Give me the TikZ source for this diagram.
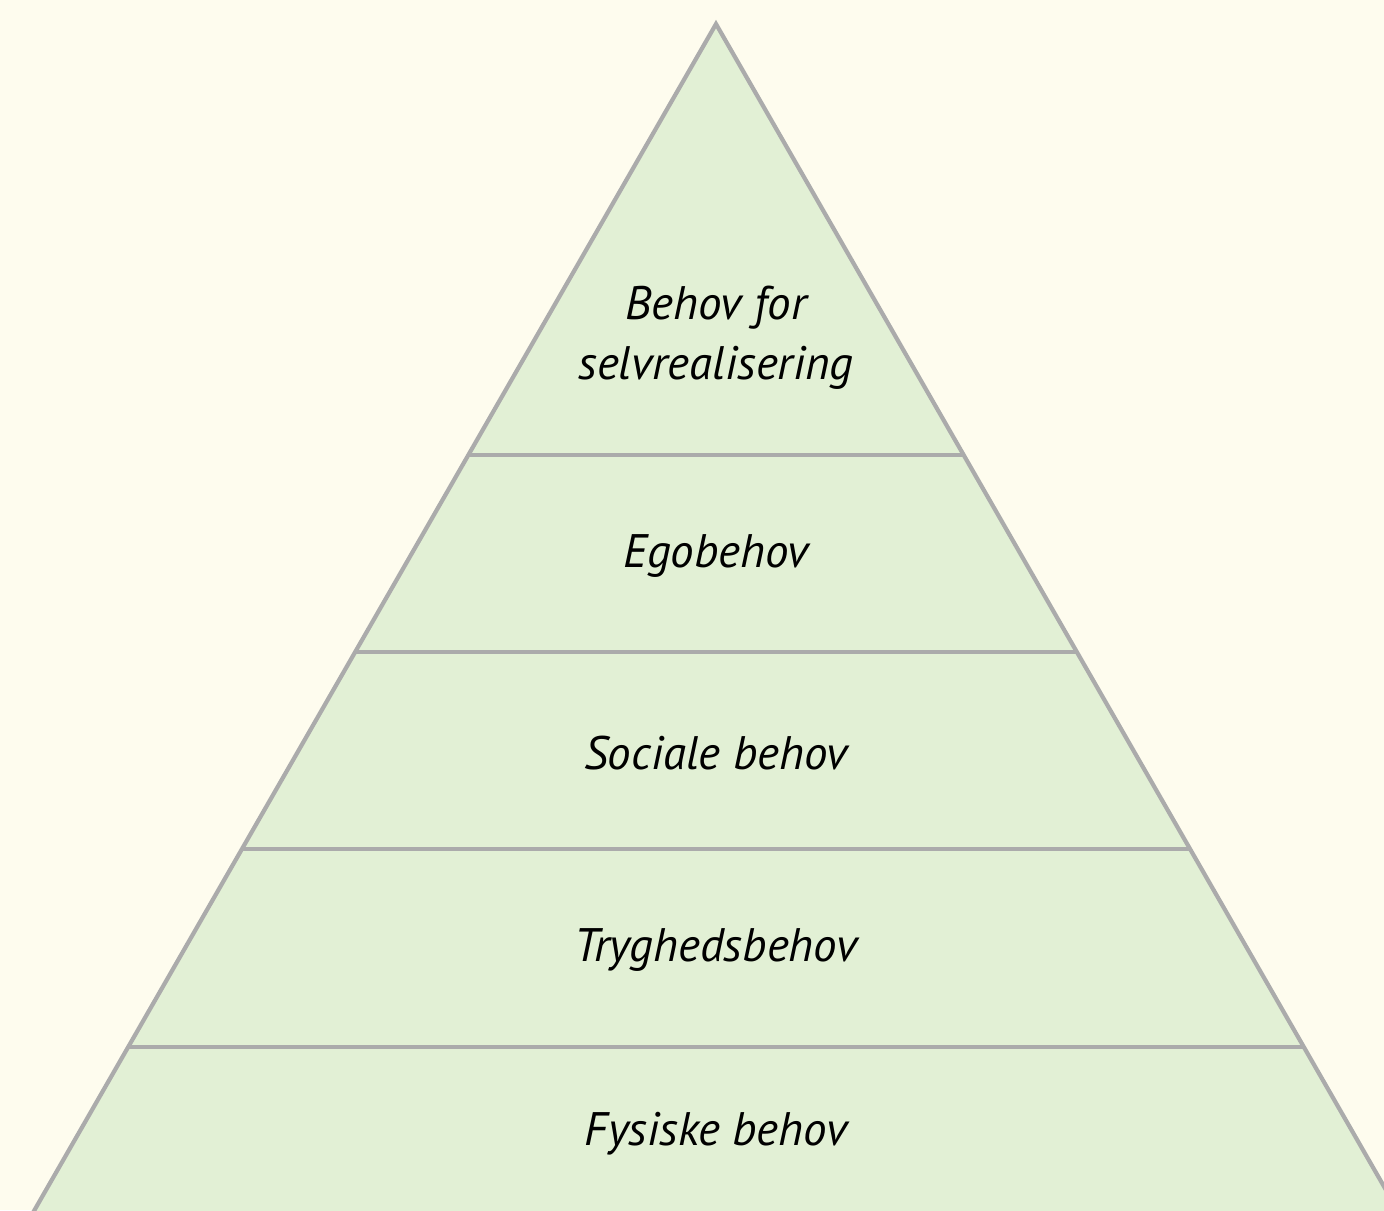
\documentclass[tikz,border=0pt]{standalone}
\usepackage{fontspec}
\setmainfont{PT Sans}
\definecolor{bgc}{HTML}{FEFCEE}
\definecolor{fillc}{HTML}{E2F0D5}
\definecolor{linec}{HTML}{ABABAB}
\begin{document}
\begin{tikzpicture}[x=0.5pt,y=-0.5pt,
  edge/.style={draw=linec,line width=2.1pt},
  lbl/.style={font=\fontsize{23.5}{30}\selectfont\itshape,align=center,text=black}]
\path[use as bounding box,fill=bgc] (0,0) rectangle (1384,1210);
\begin{scope}
\clip (0,0) rectangle (1384,1210);
\coordinate (apex) at (716,24);
\coordinate (bl) at (716-0.5746*1248,1272);
\coordinate (br) at (716+0.5746*1248,1272);
\fill[fillc] (apex) -- (bl) -- (br) -- cycle;
\draw[edge,line join=miter] (bl) -- (apex) -- (br);
\foreach \y/\n in {455/a,652/b,849/c,1047/d}{
  \draw[edge] ({716-0.5746*(\y-24)},\y) coordinate (l\n) -- ({716+0.5746*(\y-24)},\y) coordinate (r\n);
}
\end{scope}
\node[lbl] (n1) at (716,338) {Behov for\\selvrealisering};
\node[lbl] (n2) at (716,556) {Egobehov};
\node[lbl] (n3) at (716,753) {Sociale behov};
\node[lbl] (n4) at (716,950) {Tryghedsbehov};
\node[lbl] (n5) at (716,1134) {Fysiske behov};
\end{tikzpicture}
\end{document}
